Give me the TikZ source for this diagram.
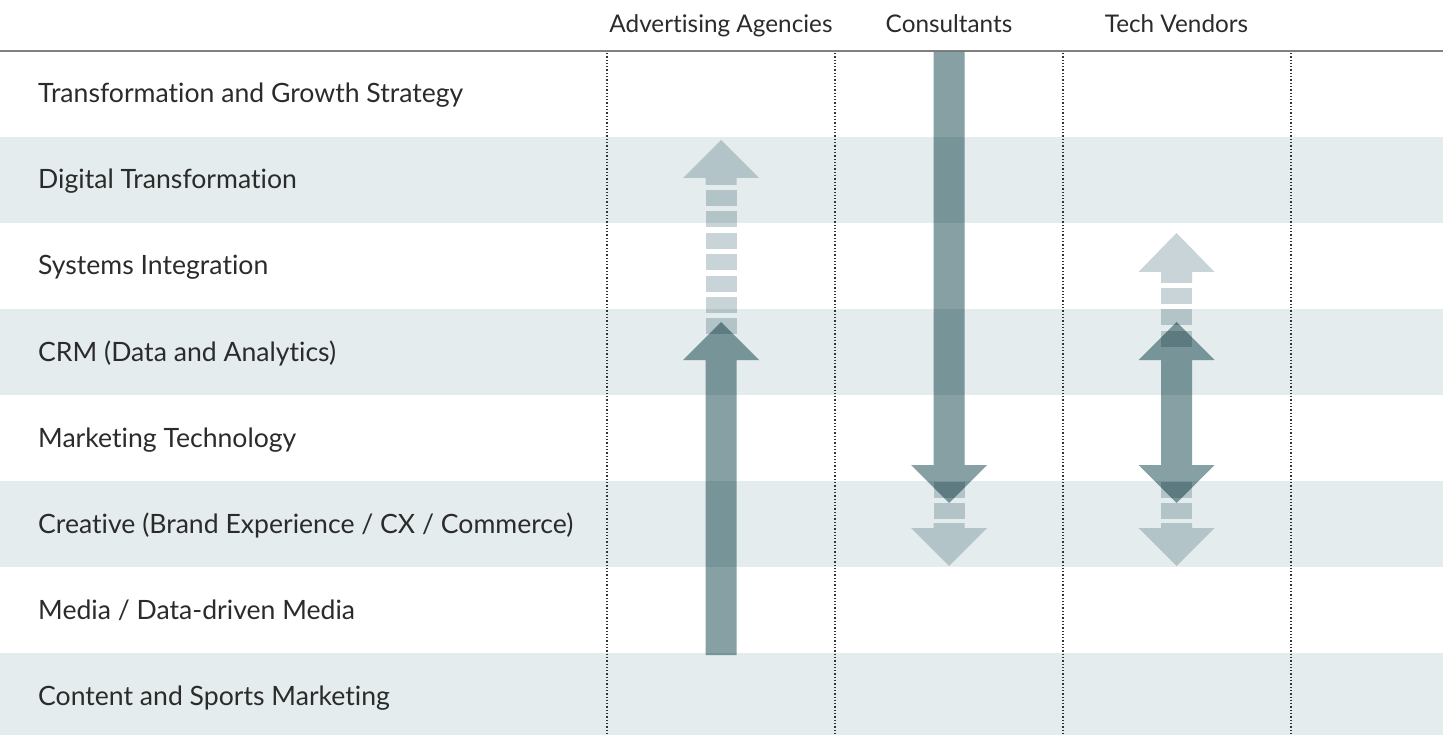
\documentclass[tikz,border=0pt]{standalone}
\usepackage{fontspec}
\setmainfont{Lato}[Ligatures=NoCommon]
\definecolor{rowshade}{HTML}{E4ECEE}
\definecolor{arrdark}{HTML}{86A0A4}
\definecolor{arrlight}{HTML}{C9D4D8}
\definecolor{txtgray}{HTML}{2B2B2B}
\definecolor{rulegray}{HTML}{808080}
\tikzset{
  rowlabel/.style={anchor=base west,inner sep=0pt,text=txtgray,font=\fontsize{26.6}{32}\selectfont},
  colhead/.style={anchor=base,inner sep=0pt,text=txtgray,font=\fontsize{24.3}{29}\selectfont},
  colsep/.style={line width=1.3pt,dash pattern=on 1.3pt off 2pt,black!80}
}
\def\shw{15.5}
\def\hhw{38}
\begin{document}
\begin{tikzpicture}[x=1pt,y=-1pt]
\useasboundingbox (0,0) rectangle (1443,735);
\foreach \r in {2,4,6,8}
  \fill[rowshade] (0,{51+86*(\r-1)}) rectangle (1443,{min(51+86*\r,735)});
\draw[rulegray,line width=2pt] (0,51) -- (1443,51);
\foreach \x in {607,835,1063,1291}
  \draw[colsep] (\x,53) -- (\x,735);
\node[colhead] (h1) at (721,33) {Advertising Agencies};
\node[colhead] (h2) at (949,33) {Consultants};
\node[colhead] (h3) at (1176.5,33) {Tech Vendors};
\foreach \r/\txt in {1/{Transformation and Growth Strategy},2/{Digital Transformation},
    3/{Systems Integration},4/{CRM (Data and Analytics)},5/{Marketing Technology},
    6/{Creative (Brand Experience / CX / Commerce)},7/{Media / Data-driven Media},
    8/{Content and Sports Marketing}}
  \node[rowlabel] (r\r) at (38,{51+86*(\r-1)+52}) {\txt};
\begin{scope}[blend mode=multiply]
% advertising agencies
\fill[arrdark] (721-\shw,655) -- (721-\shw,360) -- (721-\hhw,360) -- (721,322)
  -- (721+\hhw,360) -- (721+\shw,360) -- (721+\shw,655) -- cycle;
\fill[arrlight] (721-\shw,185) -- (721-\shw,178) -- (721-\hhw,178) -- (721,140)
  -- (721+\hhw,178) -- (721+\shw,178) -- (721+\shw,185) -- cycle;
\foreach \y in {190,211.4,...,320}
  \fill[arrlight] (721-\shw,\y) rectangle (721+\shw,\y+16);
% consultants
\fill[arrdark] (949-\shw,52) -- (949-\shw,465) -- (949-\hhw,465) -- (949,503)
  -- (949+\hhw,465) -- (949+\shw,465) -- (949+\shw,52) -- cycle;
\foreach \y in {481.6,503}
  \fill[arrlight] (949-\shw,\y) rectangle (949+\shw,\y+16);
\fill[arrlight] (949-\shw,523) -- (949-\shw,528) -- (949-\hhw,528) -- (949,566)
  -- (949+\hhw,528) -- (949+\shw,528) -- (949+\shw,523) -- cycle;
% tech vendors
\fill[arrlight] (1176.5-\shw,283) -- (1176.5-\shw,272) -- (1176.5-\hhw,272) -- (1176.5,233)
  -- (1176.5+\hhw,272) -- (1176.5+\shw,272) -- (1176.5+\shw,283) -- cycle;
\foreach \y in {288,309.4,330.8,482,503.4}
  \fill[arrlight] (1176.5-\shw,\y) rectangle (1176.5+\shw,\y+16);
\fill[arrdark] (1176.5-\shw,360) -- (1176.5-\hhw,360) -- (1176.5,322) -- (1176.5+\hhw,360)
  -- (1176.5+\shw,360) -- (1176.5+\shw,465) -- (1176.5+\hhw,465) -- (1176.5,503)
  -- (1176.5-\hhw,465) -- (1176.5-\shw,465) -- cycle;
\fill[arrlight] (1176.5-\shw,523) -- (1176.5-\shw,528) -- (1176.5-\hhw,528) -- (1176.5,566)
  -- (1176.5+\hhw,528) -- (1176.5+\shw,528) -- (1176.5+\shw,523) -- cycle;
\end{scope}
\end{tikzpicture}
\end{document}
